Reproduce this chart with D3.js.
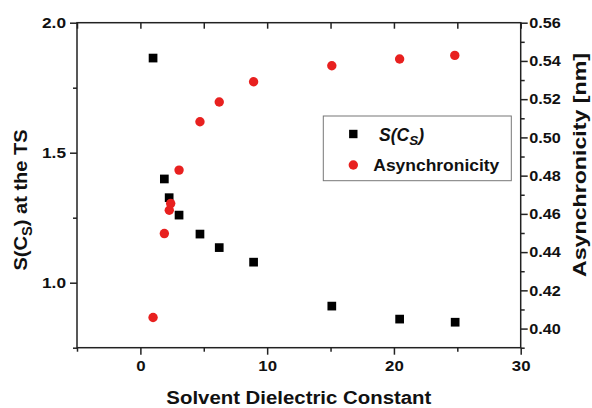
<!DOCTYPE html>
<html>
<head>
<meta charset="utf-8">
<script src="https://cdn.jsdelivr.net/npm/d3@7"></script>
<style>
  html, body { margin: 0; padding: 0; background: #fff; }
  svg { display: block; }
  text { font-family: "Liberation Sans", Arial, Helvetica, sans-serif; font-weight: bold; fill: #111; }
</style>
</head>
<body>
<svg id="chart" width="592" height="408"></svg>
<script>
// Solvent dielectric constants (x) and the two measured quantities
const dielectricS = [1.0, 1.89, 2.27, 3.05, 4.7, 6.22, 8.93, 15.1, 20.45, 24.83];
const sValues     = [1.864, 1.399, 1.327, 1.26, 1.187, 1.135, 1.079, 0.910, 0.860, 0.848];

const dielectricA = [1.0, 1.89, 2.28, 2.39, 3.05, 4.7, 6.22, 8.93, 15.1, 20.45, 24.8];
const asyncValues = [0.4058, 0.4497, 0.4619, 0.4654, 0.4829, 0.5082, 0.5185, 0.5291, 0.5375, 0.541, 0.5429];

// Axis ticks
const xMajor = [0, 10, 20, 30];
const xMinor = [-5, 5, 15, 25];
const xTop   = [-5, 0, 5, 10, 15, 20, 25, 30];
const leftMajor = [1.0, 1.5, 2.0];
const leftMinor = [0.75, 1.25, 1.75];
const rightMajor = [0.40, 0.42, 0.44, 0.46, 0.48, 0.50, 0.52, 0.54, 0.56];
const rightMinor = [0.39, 0.41, 0.43, 0.45, 0.47, 0.49, 0.51, 0.53, 0.55];

const xLabel = "Solvent Dielectric Constant";
const rightLabel = "Asynchronicity [nm]";
const legendAsync = "Asynchronicity";

const red = "#e8201f";
const axisColor = "#222";

const svg = d3.select("#chart");
const L = 77, R = 520.7, T = 22.7, B = 347.7;

const x = d3.scaleLinear().domain([-5, 30]).range([L, R]);
const yL = d3.scaleLinear().domain([0.75, 2.0]).range([B, T]);
const yR = d3.scaleLinear().domain([0.39, 0.56]).range([B, T]);

// stretch a text element horizontally along its own direction
function stretch(sel, factor) {
  sel.each(function () {
    const n = this.getComputedTextLength();
    d3.select(this).attr("textLength", n * factor).attr("lengthAdjust", "spacingAndGlyphs");
  });
}

function styleAxis(g) {
  g.select(".domain").remove();
  g.selectAll("line").attr("stroke", axisColor).attr("stroke-width", 1.5);
  g.selectAll("text").attr("font-size", "15px").attr("fill", "#111");
}

// bottom axis
const gB = svg.append("g").attr("transform", `translate(0,${B})`)
  .call(d3.axisBottom(x).tickValues(xMajor).tickSize(7).tickPadding(6).tickFormat(d3.format("d")));
styleAxis(gB);
svg.append("g").attr("transform", `translate(0,${B})`)
  .call(d3.axisBottom(x).tickValues(xMinor).tickSize(4).tickFormat(""))
  .call(styleAxis);

// top axis (inward ticks, no labels)
svg.append("g").attr("transform", `translate(0,${T})`)
  .call(d3.axisBottom(x).tickValues(xTop).tickSize(6).tickFormat(""))
  .call(styleAxis);

// left axis
const gL = svg.append("g").attr("transform", `translate(${L},0)`)
  .call(d3.axisLeft(yL).tickValues(leftMajor).tickSize(7).tickPadding(4).tickFormat(d3.format(".1f")));
styleAxis(gL);
svg.append("g").attr("transform", `translate(${L},0)`)
  .call(d3.axisLeft(yL).tickValues(leftMinor).tickSize(4).tickFormat(""))
  .call(styleAxis);

// right axis
const gR = svg.append("g").attr("transform", `translate(${R},0)`)
  .call(d3.axisRight(yR).tickValues(rightMajor).tickSize(7).tickPadding(1.5).tickFormat(d3.format(".2f")));
styleAxis(gR);
svg.append("g").attr("transform", `translate(${R},0)`)
  .call(d3.axisRight(yR).tickValues(rightMinor).tickSize(4).tickFormat(""))
  .call(styleAxis);

gB.selectAll("text").call(stretch, 1.12);
gL.selectAll("text").call(stretch, 1.15);
gR.selectAll("text").call(stretch, 1.08);

// frame
svg.append("rect").attr("x", L).attr("y", T).attr("width", R - L).attr("height", B - T)
  .attr("fill", "none").attr("stroke", axisColor).attr("stroke-width", 1.5);

// data: squares
const sq = 8.7;
svg.append("g").selectAll("rect").data(dielectricS.map((d, i) => [d, sValues[i]]))
  .join("rect")
  .attr("x", d => x(d[0]) - sq / 2).attr("y", d => yL(d[1]) - sq / 2)
  .attr("width", sq).attr("height", sq).attr("fill", "#000");

// data: circles
svg.append("g").selectAll("circle").data(dielectricA.map((d, i) => [d, asyncValues[i]]))
  .join("circle")
  .attr("cx", d => x(d[0])).attr("cy", d => yR(d[1])).attr("r", 4.7).attr("fill", red);

// axis titles
svg.append("text").attr("x", (L + R) / 2).attr("y", 404).attr("text-anchor", "middle")
  .attr("font-size", "18px").text(xLabel).attr("textLength", 265).attr("lengthAdjust", "spacingAndGlyphs");

const lt = svg.append("text").attr("transform", "translate(27,200) rotate(-90)")
  .attr("text-anchor", "middle").attr("font-size", "19px");
lt.append("tspan").text("S(C");
lt.append("tspan").attr("font-size", "14px").attr("dy", 5).text("S");
lt.append("tspan").attr("dy", -5).text(") at the TS");
lt.attr("textLength", 141).attr("lengthAdjust", "spacingAndGlyphs");

svg.append("text").attr("transform", "translate(586,165) rotate(-90)")
  .attr("text-anchor", "middle").attr("font-size", "19px").text(rightLabel)
  .attr("textLength", 224).attr("lengthAdjust", "spacingAndGlyphs");

// legend
const lg = svg.append("g");
lg.append("rect").attr("x", 323.3).attr("y", 116).attr("width", 188).attr("height", 64.7)
  .attr("fill", "#fff").attr("stroke", "#777").attr("stroke-width", 1);
lg.append("rect").attr("x", 353.3 - 4.2).attr("y", 134 - 4.2).attr("width", 8.4).attr("height", 8.4).attr("fill", "#000");
lg.append("circle").attr("cx", 353.3).attr("cy", 165).attr("r", 4.7).attr("fill", red);
const ls = lg.append("text").attr("x", 379).attr("y", 141).attr("font-size", "17.5px").attr("font-style", "italic");
ls.append("tspan").text("S(C");
ls.append("tspan").attr("font-size", "13.5px").attr("dy", 4).text("S");
ls.append("tspan").attr("dy", -4).text(")");
lg.append("text").attr("x", 373.3).attr("y", 171).attr("font-size", "16.5px").text(legendAsync)
  .attr("textLength", 126).attr("lengthAdjust", "spacingAndGlyphs");
</script>
</body>
</html>
